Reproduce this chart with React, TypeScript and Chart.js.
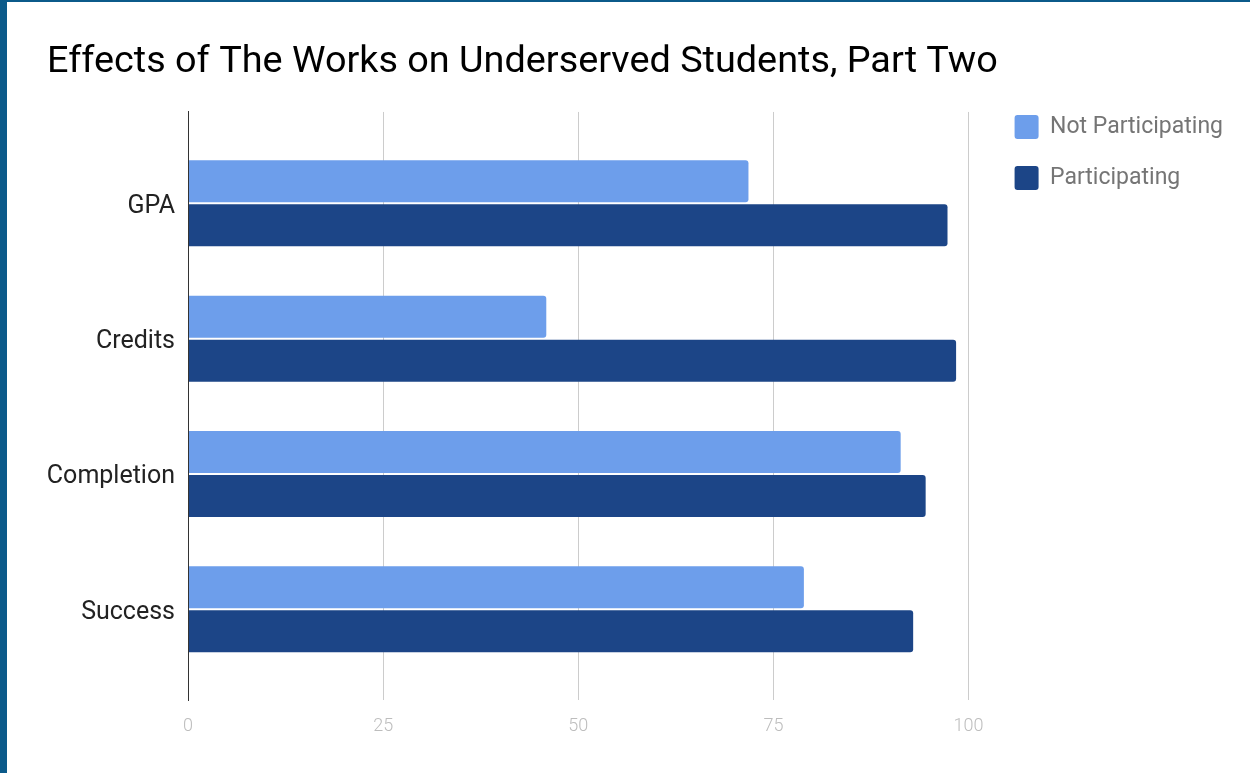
import React, { useEffect, useRef } from "react";
import { Chart, registerables } from "chart.js";

Chart.register(...registerables);

const TITLE = "Effects of The Works on Underserved Students, Part Two";
const CATEGORIES = ["GPA", "Credits", "Completion", "Success"];
const SERIES_NAMES = ["Not Participating", "Participating"];
const NOT_PARTICIPATING = [71.8, 45.9, 91.3, 78.9];
const PARTICIPATING = [97.3, 98.4, 94.5, 92.9];
const X_TICKS = [0, 25, 50, 75, 100];
const COLORS = ["#6d9eeb", "#1c4587"];

export default function App() {
  const canvasRef = useRef<HTMLCanvasElement | null>(null);

  useEffect(() => {
    const canvas = canvasRef.current;
    if (!canvas) return;
    const toPoints = (vals: number[]) => vals.map((v, i) => ({ x: v, y: i }));
    const chart = new Chart(canvas, {
      type: "bar",
      data: {
        datasets: [
          {
            label: SERIES_NAMES[0],
            data: toPoints(NOT_PARTICIPATING),
            backgroundColor: COLORS[0],
            borderWidth: 0,
            borderRadius: 3,
            borderSkipped: "start",
            categoryPercentage: 0.65,
            barPercentage: 0.955,
          },
          {
            label: SERIES_NAMES[1],
            data: toPoints(PARTICIPATING),
            backgroundColor: COLORS[1],
            borderWidth: 0,
            borderRadius: 3,
            borderSkipped: "start",
            categoryPercentage: 0.65,
            barPercentage: 0.955,
          },
        ],
      },
      options: {
        indexAxis: "y",
        responsive: false,
        animation: false,
        layout: { padding: { left: 47, right: 17, top: 0, bottom: 0 } },
        scales: {
          x: {
            type: "linear",
            min: 0,
            max: 100,
            afterBuildTicks: (s: any) => {
              s.ticks = X_TICKS.map((v) => ({ value: v }));
            },
            grid: { color: "#cccccc", lineWidth: 1, drawTicks: false },
            border: { display: false },
            ticks: {
              color: "#bdbdbd",
              padding: 16,
              font: { family: "Roboto", size: 18, weight: 300 },
            },
            afterFit: (s: any) => {
              s.height = 73;
            },
          },
          y: {
            type: "linear",
            reverse: true,
            offset: false,
            min: -0.675,
            max: 3.67,
            afterBuildTicks: (s: any) => {
              s.ticks = CATEGORIES.map((_, i) => ({ value: i }));
            },
            grid: { display: false, drawTicks: false, offset: false },
            border: { display: true, color: "#333333", width: 1, z: 1 },
            ticks: {
              color: "#222222",
              padding: 13,
              labelOffset: 3,
              autoSkip: false,
              font: { family: "Roboto", size: 25 },
              callback: (v: any) => CATEGORIES[Math.round(Number(v))] ?? "",
            },
            afterFit: (s: any) => {
              s.width = 141;
            },
          },
          yPad: {
            type: "linear",
            position: "right",
            display: true,
            grid: { display: false, drawTicks: false },
            border: { display: false },
            ticks: { display: false },
            afterFit: (s: any) => {
              s.width = 19;
            },
          },
        },
        plugins: {
          title: {
            display: true,
            text: TITLE,
            align: "start",
            color: "#000000",
            font: { family: "Roboto", size: 37.8, weight: "normal", lineHeight: 1.2 },
            padding: { top: 40, bottom: 26.6 },
          },
          legend: {
            display: true,
            position: "right",
            align: "start",
            fullSize: true,
            maxWidth: 400,
            title: { display: true, text: "", padding: { top: 0, bottom: 76 }, font: { size: 10, lineHeight: 1.2 } },
            labels: {
              boxWidth: 24,
              boxHeight: 24,
              padding: 27,
              color: "#757575",
              useBorderRadius: true,
              borderRadius: 3,
              font: { family: "Roboto", size: 23 },
            },
          },
          tooltip: { enabled: false },
        },
      },
    });
    return () => chart.destroy();
  }, []);

  return (
    <div style={{ position: "absolute", left: 0, top: 0, width: 1250, height: 773, background: "#ffffff", overflow: "hidden" }}>
      <canvas ref={canvasRef} width={1250} height={773} style={{ display: "block", width: 1250, height: 773 }} />
      <div style={{ position: "absolute", left: 0, top: 0, width: 7, height: 773, background: "#0b5a8a" }} />
      <div style={{ position: "absolute", left: 0, top: 0, width: 1250, height: 2, background: "#0b5a8a" }} />
    </div>
  );
}
